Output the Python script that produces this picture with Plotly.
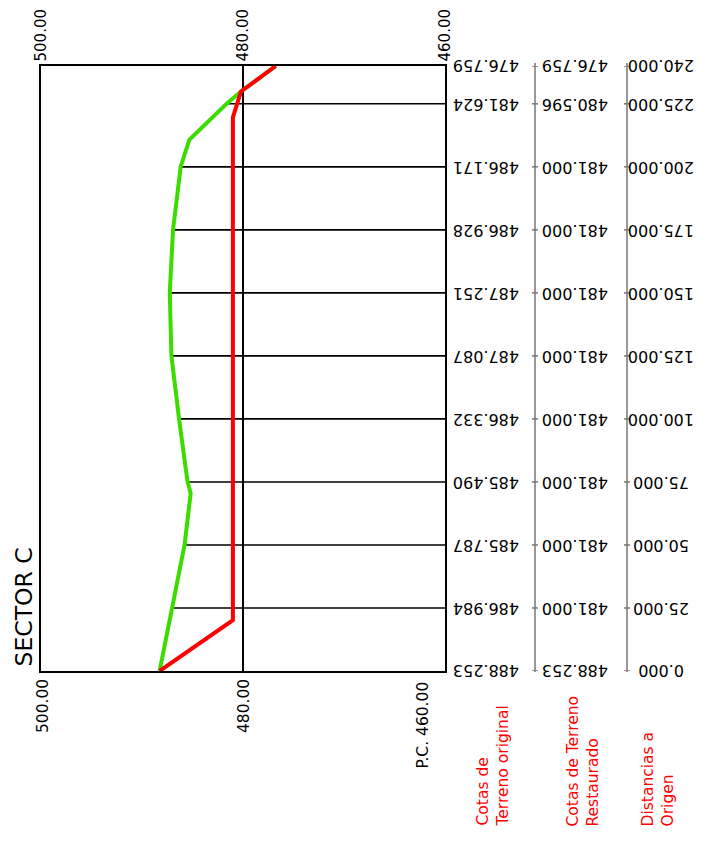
import plotly.graph_objects as go

# ---- data ----
stations = [0, 25, 50, 75, 100, 125, 150, 175, 200, 225, 240]
cota_original = [488.253, 486.984, 485.787, 485.490, 486.332, 487.087, 487.251, 486.928, 486.171, 481.624, 476.759]
cota_restaurado = [488.253, 481.000, 481.000, 481.000, 481.000, 481.000, 481.000, 481.000, 481.000, 480.596, 476.759]

# terrain profile lines as drawn (distance, elevation)
orig_dist = [0, 25, 50, 70.5, 75, 100, 125, 150, 175, 200, 210.7, 219.3, 225, 229.9, 240]
orig_elev = [488.253, 486.984, 485.787, 485.18, 485.490, 486.332, 487.087, 487.251, 486.928, 486.171, 485.32, 483.1, 481.624, 480.2, 476.759]
rest_dist = [0, 20.2, 219.6, 225, 229.9, 240]
rest_elev = [488.253, 481.0, 481.0, 480.596, 480.2, 476.759]

x_ticks = [500, 480, 460]
x_tick_text = ["500.00", "480.00", "460.00"]
x_bottom_text = ["500.00", "480.00", "P.C. 460.00"]
title_text = "SECTOR C"
row_titles = ["Cotas de<br>Terreno original", "Cotas de Terreno<br>Restaurado", "Distancias a<br>Origen"]

FONT = "DejaVu Sans"
OFF = 8  # default page body margin
W, H = 709 - OFF, 858 - OFF
L, R, T, B = 41, 445, 66, 671  # plot area in page pixels


def px_to_paper_x(px):
    return (px - L) / (R - L)


def px_to_paper_y(py):
    return (B - py) / (B - T)


fig = go.Figure()

# station lines (from ground to 460)
sx, sy = [], []
for d, g in zip(stations, cota_original):
    if d in (stations[0], stations[-1]):
        continue
    sx += [g, 460, None]
    sy += [d, d, None]
fig.add_trace(go.Scatter(x=sx, y=sy, mode="lines", line=dict(color="black", width=1.6),
                         hoverinfo="skip", showlegend=False))

# original terrain (green)
fig.add_trace(go.Scatter(x=orig_elev, y=orig_dist, mode="lines",
                         line=dict(color="#3CDC00", width=4), showlegend=False))
# restored terrain (red)
fig.add_trace(go.Scatter(x=rest_elev, y=rest_dist, mode="lines",
                         line=dict(color="#FF0000", width=4), showlegend=False))

annotations = []
# top axis labels
for v, t in zip(x_ticks, x_tick_text):
    annotations.append(dict(x=v, xref="x", y=px_to_paper_y(63), yref="paper", text=t,
                            textangle=-90, showarrow=False, xanchor="center", yanchor="bottom",
                            borderpad=0,
                            font=dict(family=FONT, size=15, color="black")))
# bottom axis labels
bot_px = [43, 244, 422]
bot_top = [677, 677, 680]
for px, py, t in zip(bot_px, bot_top, x_bottom_text):
    annotations.append(dict(x=px_to_paper_x(px), xref="paper", y=px_to_paper_y(py), yref="paper",
                            text=t, textangle=-90, showarrow=False, xanchor="center", yanchor="top",
                            font=dict(family=FONT, size=15.5, color="black")))
# sector title
annotations.append(dict(x=px_to_paper_x(23), xref="paper", y=px_to_paper_y(669), yref="paper",
                        text=title_text, textangle=-90, showarrow=False, xanchor="center",
                        yanchor="bottom", font=dict(family=FONT, size=23.5, color="black")))

# table values (upside down)
col_px = [486, 575, 661]
cols = [cota_original, cota_restaurado, stations]
for cx, vals in zip(col_px, cols):
    for d, v in zip(stations, vals):
        annotations.append(dict(x=px_to_paper_x(cx), xref="paper", y=d, yref="y",
                                text=f"{v:.3f}", textangle=180, showarrow=False,
                                xanchor="center", yanchor="middle",
                                font=dict(family=FONT, size=16, color="black")))

# row titles (red)
title_px = [492, 582, 657]
for cx, t in zip(title_px, row_titles):
    annotations.append(dict(x=px_to_paper_x(cx), xref="paper", y=px_to_paper_y(829), yref="paper",
                            text=t, textangle=-90, showarrow=False, xanchor="center",
                            yanchor="bottom", align="left",
                            font=dict(family=FONT, size=15.5, color="#FF0000")))

shapes = []
# grey guide lines with ticks
for gx in [535, 627]:
    pxx = px_to_paper_x(gx)
    shapes.append(dict(type="line", xref="paper", yref="paper", x0=pxx, x1=pxx,
                       y0=px_to_paper_y(B + 1), y1=px_to_paper_y(T - 3),
                       line=dict(color="#999999", width=2)))
    for d in stations:
        shapes.append(dict(type="line", xref="paper", yref="y",
                           x0=px_to_paper_x(gx - 3), x1=px_to_paper_x(gx + 3), y0=d, y1=d,
                           line=dict(color="#777777", width=1.5)))

fig.update_layout(
    width=W, height=H,
    margin=dict(l=L - OFF, r=(W + OFF) - R, t=T - OFF, b=(H + OFF) - B, pad=0),
    paper_bgcolor="white", plot_bgcolor="white",
    annotations=annotations, shapes=shapes,
    xaxis=dict(range=[500, 460], showline=True, linecolor="black", linewidth=2, mirror=True,
               showgrid=True, tickvals=[480], gridcolor="black", gridwidth=1.5,
               showticklabels=False, ticks="", zeroline=False),
    yaxis=dict(range=[0, 240], showline=True, linecolor="black", linewidth=2, mirror=True,
               showgrid=False, showticklabels=False, ticks="", zeroline=False),
)

fig.write_html("out.html")
